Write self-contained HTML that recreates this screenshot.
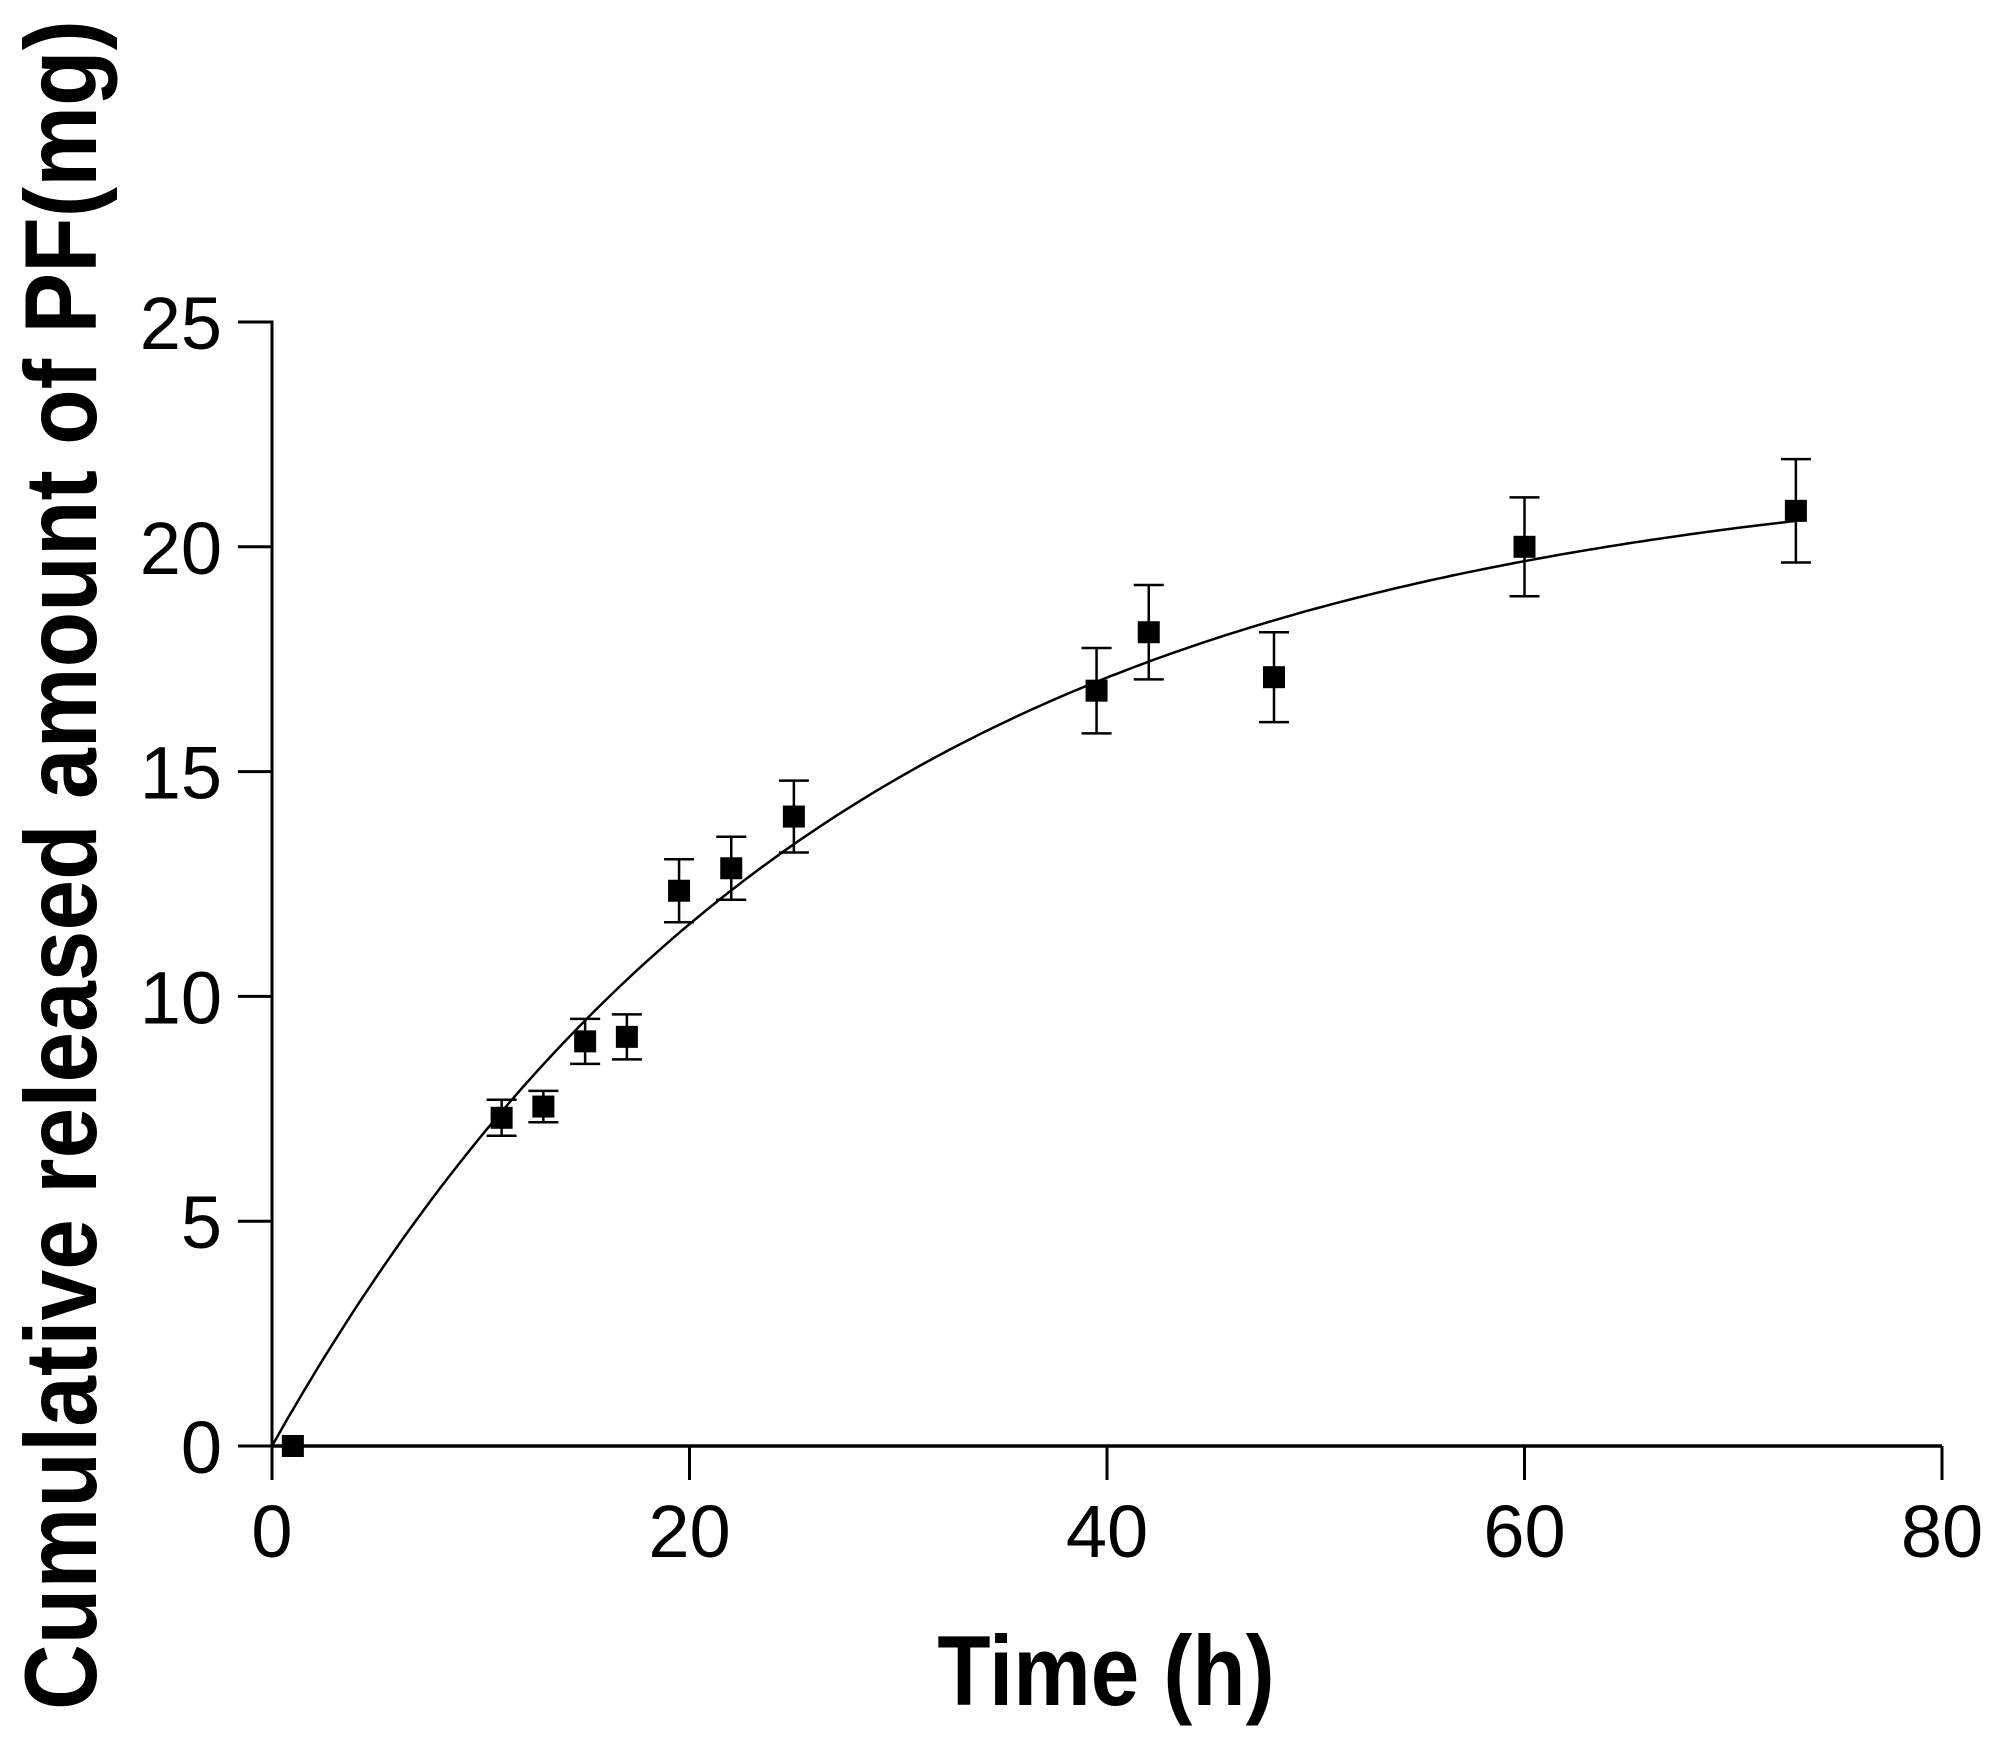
<!DOCTYPE html>
<html><head><meta charset="utf-8"><style>html,body{margin:0;padding:0;background:#fff}svg{display:block}</style></head>
<body>
<svg id="chart" width="2001" height="1745" viewBox="0 0 2001 1745" xmlns="http://www.w3.org/2000/svg" font-family="Liberation Sans, Arial, sans-serif">
<g id="axes"></g>
<g id="curve"></g>
<g id="points"></g>
<text x="1106" y="1705" font-size="99" font-weight="bold" text-anchor="middle" transform="translate(1106 0) scale(0.88 1) translate(-1106 0)">Time (h)</text>
<text transform="translate(96 865) rotate(-90)" font-size="102" font-weight="bold" text-anchor="middle" textLength="1690" lengthAdjust="spacingAndGlyphs">Cumulative released amount of PF(mg)</text>
</svg>
<script>
const times = [1, 11, 13, 15, 17, 19.5, 22, 25, 39.5, 42, 48, 60, 73];
const amounts = [0, 7.3, 7.55, 9.0, 9.1, 12.35, 12.85, 14.0, 16.8, 18.1, 17.1, 20.0, 20.8];
const errors = [0, 0.4, 0.35, 0.5, 0.5, 0.7, 0.7, 0.8, 0.95, 1.05, 1.0, 1.1, 1.15];
const xTicks = [0, 20, 40, 60, 80];
const yTicks = [0, 5, 10, 15, 20, 25];
const fitMax = 22;
const fitRate = 0.0375;
const fitEnd = 73;

const NS = 'http://www.w3.org/2000/svg';
const X0 = 272, X1 = 1942, Y0 = 1446, Y1 = 322;
const xs = v => X0 + (v - 0) / 80 * (X1 - X0);
const ys = v => Y0 - v / 25 * (Y0 - Y1);
function mk(tag, attrs, parent) {
  const e = document.createElementNS(NS, tag);
  for (const k in attrs) e.setAttribute(k, attrs[k]);
  parent.appendChild(e);
  return e;
}
const axes = document.getElementById('axes');
let e = mk('line', {x1: X0, y1: Y0, x2: X1, y2: Y0, stroke: '#000', 'stroke-width': 3.5}, axes);


e = mk('line', {x1: X0, y1: Y0 + 1.5, x2: X0, y2: Y1 - 1.5, stroke: '#000', 'stroke-width': 3}, axes);


xTicks.forEach(t => {
  const x = xs(t);
  const l = mk('line', {x1: x, y1: Y0, x2: x, y2: Y0 + 34, stroke: '#000', 'stroke-width': 3}, axes);
  
  
  const tx = mk('text', {x: x, y: 1557, 'font-size': 74, 'text-anchor': 'middle'}, axes);
  tx.textContent = t;
  
  
});
yTicks.forEach(t => {
  const y = ys(t);
  const l = mk('line', {x1: X0 - 34, y1: y, x2: X0, y2: y, stroke: '#000', 'stroke-width': 3}, axes);
  
  
  const tx = mk('text', {x: 222, y: y + 27, 'font-size': 74, 'text-anchor': 'end'}, axes);
  tx.textContent = t;
  
  
});
let d = '';
for (let i = 0; i <= 200; i++) {
  const t = fitEnd * i / 200;
  const v = fitMax * (1 - Math.exp(-fitRate * t));
  d += (i ? 'L' : 'M') + xs(t).toFixed(1) + ' ' + ys(v).toFixed(1);
}
const c = mk('path', {d: d, fill: 'none', stroke: '#000', 'stroke-width': 2.5}, document.getElementById('curve'));


const pg = document.getElementById('points');
times.forEach((t, i) => {
  const x = xs(t), y = ys(amounts[i]);
  const g = mk('g', {}, pg);
  
  
  if (errors[i] > 0) {
    const yt = ys(amounts[i] + errors[i]), yb = ys(amounts[i] - errors[i]);
    const eb = mk('path', {d: `M${x} ${yt}L${x} ${yb}M${x-15} ${yt}L${x+15} ${yt}M${x-15} ${yb}L${x+15} ${yb}`, stroke: '#000', 'stroke-width': 2.5, fill: 'none'}, g);
    
    
  }
  const r = mk('rect', {x: x - 11, y: y - 11, width: 22, height: 22, fill: '#000'}, g);
  
  
});
</script>
</body></html>
